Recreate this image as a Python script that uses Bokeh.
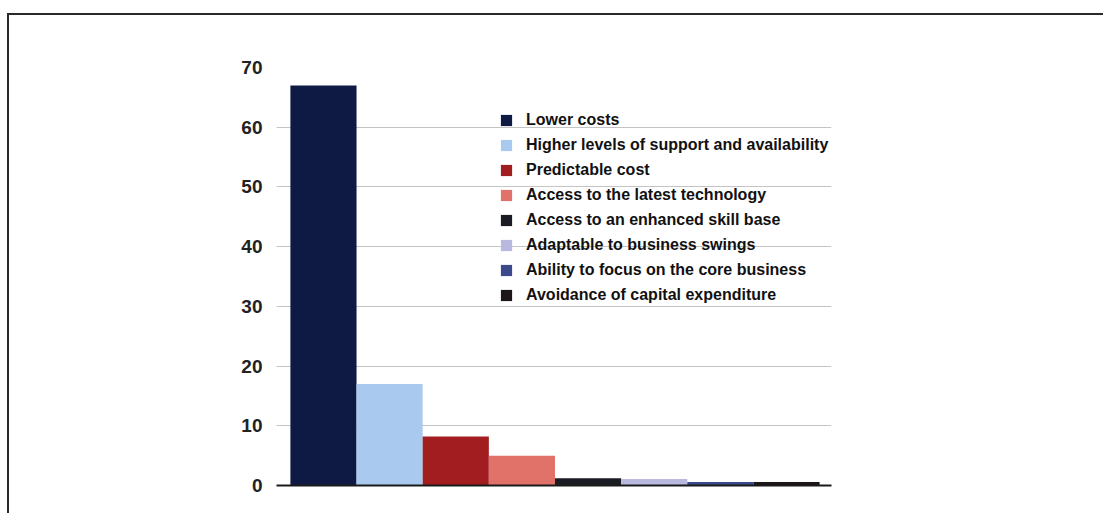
from bokeh.plotting import figure
from bokeh.models import Range1d, Legend, LegendItem, FixedTicker
from bokeh.embed import file_html
from bokeh.resources import INLINE

categories = [
    "Lower costs",
    "Higher levels of support and availability",
    "Predictable cost",
    "Access to the latest technology",
    "Access to an enhanced skill base",
    "Adaptable to business swings",
    "Ability to focus on the core business",
    "Avoidance of capital expenditure",
]
values = [67, 17, 8.2, 5, 1.2, 1.1, 0.6, 0.6]
colors = ["#0e1a44", "#a9c9ef", "#a11d1f", "#e0726a", "#1b1b24", "#b9b9e0", "#3c4a8c", "#1c1618"]
y_ticks = [0, 10, 20, 30, 40, 50, 60, 70]

p = figure(width=1096, height=500, output_backend="svg", toolbar_location=None,
           x_range=Range1d(0.29, 8.68), y_range=Range1d(0, 70),
           min_border_left=267, min_border_right=274, min_border_top=52, min_border_bottom=30)
p.styles = {"border-top": "2px solid #2a2a2a", "border-left": "2px solid #2a2a2a",
            "margin-top": "13px", "margin-left": "7px"}
p.outline_line_color = None
p.background_fill_color = "white"
p.border_fill_color = "white"

items = []
for i, (c, v, col) in enumerate(zip(categories, values, colors)):
    r = p.vbar(x=[i + 1], top=[v], width=1.0, bottom=0, fill_color=col, line_color=None)
    items.append(LegendItem(label=c, renderers=[r]))

p.xgrid.grid_line_color = None
p.ygrid.grid_line_color = "#c4c4c4"
p.ygrid.ticker = FixedTicker(ticks=y_ticks)

p.xaxis.ticker = FixedTicker(ticks=[])
p.xaxis.major_tick_line_color = None
p.xaxis.minor_tick_line_color = None
p.xaxis.axis_line_color = "#1a1a1a"
p.xaxis.axis_line_width = 2

p.yaxis.ticker = FixedTicker(ticks=y_ticks)
p.yaxis.axis_line_color = None
p.yaxis.major_tick_line_color = None
p.yaxis.minor_tick_line_color = None
p.yaxis.major_label_standoff = 8
p.yaxis.major_label_text_font = "Liberation Sans"
p.yaxis.major_label_text_font_style = "bold"
p.yaxis.major_label_text_font_size = "19px"
p.yaxis.major_label_text_color = "#222222"

legend = Legend(items=items, location=(223, 181), orientation="vertical",
                glyph_width=14, glyph_height=14, label_height=14, spacing=7,
                label_standoff=13, padding=0, margin=0,
                border_line_color=None, background_fill_alpha=0,
                label_text_font="Liberation Sans", label_text_font_style="bold",
                label_text_font_size="16px", label_text_color="#111111")
p.add_layout(legend, "center")

open("out.html", "w").write(file_html(p, INLINE))
